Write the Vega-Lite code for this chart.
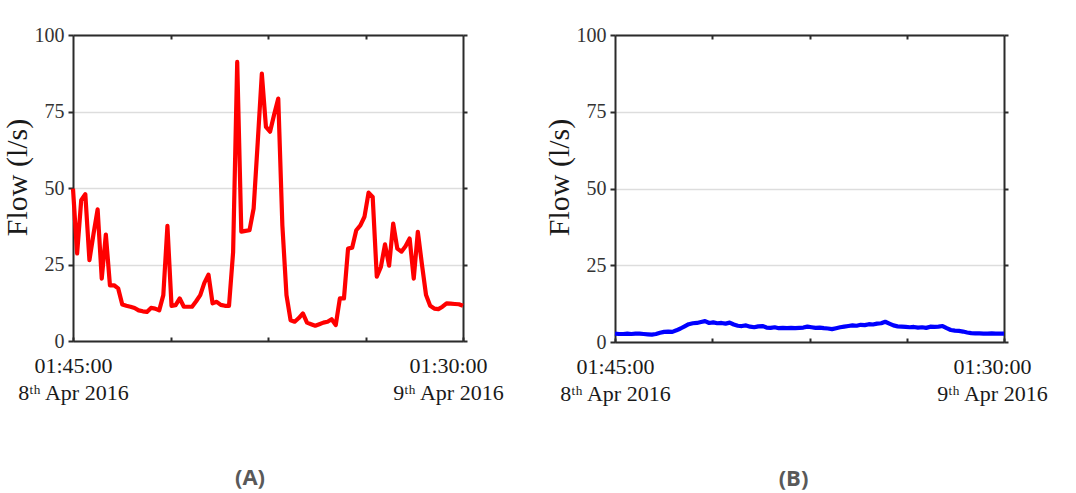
{
  "$schema": "https://vega.github.io/schema/vega-lite/v6.json",
  "background": "white",
  "padding": {"left": 2, "top": 25, "right": 5, "bottom": 5},
  "datasets": {
    "flow": [
      {"t": "2016-04-08 01:45", "a": 49.8, "b": 2.7},
      {"t": "2016-04-08 02:00", "a": 28.6, "b": 2.6},
      {"t": "2016-04-08 02:15", "a": 46.0, "b": 2.6},
      {"t": "2016-04-08 02:30", "a": 48.0, "b": 2.7},
      {"t": "2016-04-08 02:45", "a": 26.4, "b": 2.6},
      {"t": "2016-04-08 03:00", "a": 35.0, "b": 2.7},
      {"t": "2016-04-08 03:15", "a": 43.0, "b": 2.7},
      {"t": "2016-04-08 03:30", "a": 20.4, "b": 2.6},
      {"t": "2016-04-08 03:45", "a": 34.8, "b": 2.5},
      {"t": "2016-04-08 04:00", "a": 18.2, "b": 2.4},
      {"t": "2016-04-08 04:15", "a": 18.2, "b": 2.6},
      {"t": "2016-04-08 04:30", "a": 17.2, "b": 3.0},
      {"t": "2016-04-08 04:45", "a": 11.9, "b": 3.3},
      {"t": "2016-04-08 05:00", "a": 11.5, "b": 3.4},
      {"t": "2016-04-08 05:15", "a": 11.2, "b": 3.3},
      {"t": "2016-04-08 05:30", "a": 10.8, "b": 3.8},
      {"t": "2016-04-08 05:45", "a": 10.0, "b": 4.4},
      {"t": "2016-04-08 06:00", "a": 9.7, "b": 5.1},
      {"t": "2016-04-08 06:15", "a": 9.5, "b": 5.8},
      {"t": "2016-04-08 06:30", "a": 10.8, "b": 6.1},
      {"t": "2016-04-08 06:45", "a": 10.6, "b": 6.2},
      {"t": "2016-04-08 07:00", "a": 10.0, "b": 6.5},
      {"t": "2016-04-08 07:15", "a": 15.0, "b": 6.8},
      {"t": "2016-04-08 07:30", "a": 37.6, "b": 6.2},
      {"t": "2016-04-08 07:45", "a": 11.5, "b": 6.4},
      {"t": "2016-04-08 08:00", "a": 11.7, "b": 6.1},
      {"t": "2016-04-08 08:15", "a": 13.9, "b": 6.2},
      {"t": "2016-04-08 08:30", "a": 11.2, "b": 6.0},
      {"t": "2016-04-08 08:45", "a": 11.2, "b": 6.3},
      {"t": "2016-04-08 09:00", "a": 11.2, "b": 5.7},
      {"t": "2016-04-08 09:15", "a": 13.0, "b": 5.3},
      {"t": "2016-04-08 09:30", "a": 15.0, "b": 5.2},
      {"t": "2016-04-08 09:45", "a": 19.0, "b": 5.4},
      {"t": "2016-04-08 10:00", "a": 21.7, "b": 5.0},
      {"t": "2016-04-08 10:15", "a": 12.3, "b": 4.8},
      {"t": "2016-04-08 10:30", "a": 12.8, "b": 5.1},
      {"t": "2016-04-08 10:45", "a": 11.8, "b": 5.2},
      {"t": "2016-04-08 11:00", "a": 11.5, "b": 4.7},
      {"t": "2016-04-08 11:15", "a": 11.5, "b": 4.6},
      {"t": "2016-04-08 11:30", "a": 29.0, "b": 4.8},
      {"t": "2016-04-08 11:45", "a": 91.2, "b": 4.5},
      {"t": "2016-04-08 12:00", "a": 35.7, "b": 4.6},
      {"t": "2016-04-08 12:15", "a": 36.0, "b": 4.5},
      {"t": "2016-04-08 12:30", "a": 36.2, "b": 4.6},
      {"t": "2016-04-08 12:45", "a": 43.3, "b": 4.5},
      {"t": "2016-04-08 13:00", "a": 65.0, "b": 4.6},
      {"t": "2016-04-08 13:15", "a": 87.4, "b": 4.7},
      {"t": "2016-04-08 13:30", "a": 70.0, "b": 5.0},
      {"t": "2016-04-08 13:45", "a": 68.4, "b": 4.8},
      {"t": "2016-04-08 14:00", "a": 74.0, "b": 4.6},
      {"t": "2016-04-08 14:15", "a": 79.2, "b": 4.7},
      {"t": "2016-04-08 14:30", "a": 37.8, "b": 4.5},
      {"t": "2016-04-08 14:45", "a": 15.0, "b": 4.4},
      {"t": "2016-04-08 15:00", "a": 6.8, "b": 4.2},
      {"t": "2016-04-08 15:15", "a": 6.3, "b": 4.5},
      {"t": "2016-04-08 15:30", "a": 7.5, "b": 4.8},
      {"t": "2016-04-08 15:45", "a": 9.0, "b": 5.0},
      {"t": "2016-04-08 16:00", "a": 6.0, "b": 5.2},
      {"t": "2016-04-08 16:15", "a": 5.5, "b": 5.4},
      {"t": "2016-04-08 16:30", "a": 5.0, "b": 5.3},
      {"t": "2016-04-08 16:45", "a": 5.5, "b": 5.6},
      {"t": "2016-04-08 17:00", "a": 6.0, "b": 5.5},
      {"t": "2016-04-08 17:15", "a": 6.3, "b": 5.8},
      {"t": "2016-04-08 17:30", "a": 7.1, "b": 5.7},
      {"t": "2016-04-08 17:45", "a": 5.2, "b": 6.0},
      {"t": "2016-04-08 18:00", "a": 13.9, "b": 6.1},
      {"t": "2016-04-08 18:15", "a": 13.9, "b": 6.6},
      {"t": "2016-04-08 18:30", "a": 30.2, "b": 6.0},
      {"t": "2016-04-08 18:45", "a": 30.5, "b": 5.4},
      {"t": "2016-04-08 19:00", "a": 36.2, "b": 5.1},
      {"t": "2016-04-08 19:15", "a": 37.8, "b": 5.0},
      {"t": "2016-04-08 19:30", "a": 40.6, "b": 4.9},
      {"t": "2016-04-08 19:45", "a": 48.5, "b": 4.8},
      {"t": "2016-04-08 20:00", "a": 47.1, "b": 4.9},
      {"t": "2016-04-08 20:15", "a": 21.0, "b": 4.7},
      {"t": "2016-04-08 20:30", "a": 24.2, "b": 4.8},
      {"t": "2016-04-08 20:45", "a": 31.6, "b": 4.6},
      {"t": "2016-04-08 21:00", "a": 24.6, "b": 5.0},
      {"t": "2016-04-08 21:15", "a": 38.4, "b": 4.9},
      {"t": "2016-04-08 21:30", "a": 30.2, "b": 5.0},
      {"t": "2016-04-08 21:45", "a": 29.2, "b": 5.2},
      {"t": "2016-04-08 22:00", "a": 31.0, "b": 4.5},
      {"t": "2016-04-08 22:15", "a": 33.5, "b": 3.9},
      {"t": "2016-04-08 22:30", "a": 20.4, "b": 3.7},
      {"t": "2016-04-08 22:45", "a": 35.7, "b": 3.6},
      {"t": "2016-04-08 23:00", "a": 25.0, "b": 3.4},
      {"t": "2016-04-08 23:15", "a": 15.0, "b": 3.1},
      {"t": "2016-04-08 23:30", "a": 11.5, "b": 2.9},
      {"t": "2016-04-08 23:45", "a": 10.6, "b": 2.8},
      {"t": "2016-04-09 00:00", "a": 10.4, "b": 2.8},
      {"t": "2016-04-09 00:15", "a": 11.2, "b": 2.7},
      {"t": "2016-04-09 00:30", "a": 12.3, "b": 2.7},
      {"t": "2016-04-09 00:45", "a": 12.2, "b": 2.8},
      {"t": "2016-04-09 01:00", "a": 12.1, "b": 2.7},
      {"t": "2016-04-09 01:15", "a": 12.0, "b": 2.7},
      {"t": "2016-04-09 01:30", "a": 11.5, "b": 2.7}
    ]
  },
  "data": {"name": "flow"},
  "spacing": 40,
  "hconcat": [
    {
      "width": 390,
      "height": 306,
      "title": {"text": "(A)", "orient": "bottom", "anchor": "middle", "offset": 65, "dx": -18},
      "layer": [
        {
          "mark": {"type": "line", "color": "#ff0000", "strokeWidth": 4.2, "strokeJoin": "round"},
          "encoding": {
            "x": {
              "field": "t", "type": "temporal",
              "scale": {"domain": [{"year": 2016, "month": 4, "date": 8, "hours": 1, "minutes": 45}, {"year": 2016, "month": 4, "date": 9, "hours": 1, "minutes": 30}], "nice": false},
              "axis": {
                "orient": "bottom", "title": null, "grid": false,
                "values": [
                  {"year": 2016, "month": 4, "date": 8, "hours": 1, "minutes": 45},
                  {"year": 2016, "month": 4, "date": 8, "hours": 7, "minutes": 41, "seconds": 15},
                  {"year": 2016, "month": 4, "date": 8, "hours": 13, "minutes": 37, "seconds": 30},
                  {"year": 2016, "month": 4, "date": 8, "hours": 19, "minutes": 33, "seconds": 45},
                  {"year": 2016, "month": 4, "date": 9, "hours": 1, "minutes": 30}
                ],
                "labelExpr": "datum.value < datetime(2016, 3, 8, 2, 0) || datum.value > datetime(2016, 3, 9, 1, 0) ? [timeFormat(datum.value, '%H:%M:%S'), timeFormat(datum.value, '%-d') + 'ᵗʰ ' + timeFormat(datum.value, '%b %Y')] : ''",
                "labelOffset": {"condition": {"test": "datum.value > datetime(2016, 3, 9, 1, 0)", "value": -15}, "value": 0},
                "tickSize": -4, "labelPadding": 18, "labelAlign": "center", "labelFontSize": 22, "labelLineHeight": 27, "labelColor": "#1a1a1a"
              }
            },
            "y": {
              "field": "a", "type": "quantitative",
              "scale": {"domain": [0, 100], "nice": false},
              "axis": {"orient": "left", "title": "Flow (l/s)", "values": [0, 25, 50, 75, 100], "grid": true, "tickSize": 5, "labelPadding": 4, "labelFontSize": 20, "titleFontSize": 30, "titlePadding": 2, "titleY": 142}
            }
          }
        },
        {
          "mark": {"type": "line", "opacity": 0},
          "encoding": {
            "x": {
              "field": "t", "type": "temporal",
              "scale": {"domain": [{"year": 2016, "month": 4, "date": 8, "hours": 1, "minutes": 45}, {"year": 2016, "month": 4, "date": 9, "hours": 1, "minutes": 30}], "nice": false},
              "axis": {
                "orient": "top", "title": null, "grid": false, "labels": false, "tickSize": -4,
                "values": [
                  {"year": 2016, "month": 4, "date": 8, "hours": 7, "minutes": 41, "seconds": 15},
                  {"year": 2016, "month": 4, "date": 8, "hours": 13, "minutes": 37, "seconds": 30},
                  {"year": 2016, "month": 4, "date": 8, "hours": 19, "minutes": 33, "seconds": 45}
                ]
              }
            },
            "y": {
              "field": "a", "type": "quantitative",
              "scale": {"domain": [0, 100], "nice": false},
              "axis": {"orient": "right", "title": null, "grid": false, "labels": false, "tickSize": 4, "values": [0, 25, 50, 75, 100]}
            }
          }
        }
      ],
      "resolve": {"axis": {"x": "independent", "y": "independent"}}
    },
    {
      "width": 389,
      "height": 307,
      "title": {"text": "(B)", "orient": "bottom", "anchor": "middle", "offset": 65, "dx": -16},
      "layer": [
        {
          "mark": {"type": "line", "color": "#0000ff", "strokeWidth": 4.2, "strokeJoin": "round"},
          "encoding": {
            "x": {
              "field": "t", "type": "temporal",
              "scale": {"domain": [{"year": 2016, "month": 4, "date": 8, "hours": 1, "minutes": 45}, {"year": 2016, "month": 4, "date": 9, "hours": 1, "minutes": 30}], "nice": false},
              "axis": {
                "orient": "bottom", "title": null, "grid": false,
                "values": [
                  {"year": 2016, "month": 4, "date": 8, "hours": 1, "minutes": 45},
                  {"year": 2016, "month": 4, "date": 8, "hours": 7, "minutes": 41, "seconds": 15},
                  {"year": 2016, "month": 4, "date": 8, "hours": 13, "minutes": 37, "seconds": 30},
                  {"year": 2016, "month": 4, "date": 8, "hours": 19, "minutes": 33, "seconds": 45},
                  {"year": 2016, "month": 4, "date": 9, "hours": 1, "minutes": 30}
                ],
                "labelExpr": "datum.value < datetime(2016, 3, 8, 2, 0) || datum.value > datetime(2016, 3, 9, 1, 0) ? [timeFormat(datum.value, '%H:%M:%S'), timeFormat(datum.value, '%-d') + 'ᵗʰ ' + timeFormat(datum.value, '%b %Y')] : ''",
                "labelOffset": {"condition": {"test": "datum.value > datetime(2016, 3, 9, 1, 0)", "value": -12}, "value": 0},
                "tickSize": -4, "labelPadding": 18, "labelAlign": "center", "labelFontSize": 22, "labelLineHeight": 27, "labelColor": "#1a1a1a"
              }
            },
            "y": {
              "field": "b", "type": "quantitative",
              "scale": {"domain": [0, 100], "nice": false},
              "axis": {"orient": "left", "title": "Flow (l/s)", "values": [0, 25, 50, 75, 100], "grid": true, "tickSize": 5, "labelPadding": 4, "labelFontSize": 20, "titleFontSize": 30, "titlePadding": 2, "titleY": 142}
            }
          }
        },
        {
          "mark": {"type": "line", "opacity": 0},
          "encoding": {
            "x": {
              "field": "t", "type": "temporal",
              "scale": {"domain": [{"year": 2016, "month": 4, "date": 8, "hours": 1, "minutes": 45}, {"year": 2016, "month": 4, "date": 9, "hours": 1, "minutes": 30}], "nice": false},
              "axis": {
                "orient": "top", "title": null, "grid": false, "labels": false, "tickSize": -4,
                "values": [
                  {"year": 2016, "month": 4, "date": 8, "hours": 7, "minutes": 41, "seconds": 15},
                  {"year": 2016, "month": 4, "date": 8, "hours": 13, "minutes": 37, "seconds": 30},
                  {"year": 2016, "month": 4, "date": 8, "hours": 19, "minutes": 33, "seconds": 45}
                ]
              }
            },
            "y": {
              "field": "b", "type": "quantitative",
              "scale": {"domain": [0, 100], "nice": false},
              "axis": {"orient": "right", "title": null, "grid": false, "labels": false, "tickSize": 4, "values": [0, 25, 50, 75, 100]}
            }
          }
        }
      ],
      "resolve": {"axis": {"x": "independent", "y": "independent"}}
    }
  ],
  "config": {
    "view": {"stroke": null},
    "axis": {
      "domainColor": "#2b2b2b", "domainWidth": 2, "tickColor": "#2b2b2b", "tickWidth": 2,
      "labelFont": "Liberation Serif", "labelColor": "#333333", "labelOverlap": false,
      "titleFont": "Liberation Serif", "titleFontWeight": "normal", "titleColor": "#1a1a1a",
      "gridColor": "#dddddd", "gridWidth": 1.5
    },
    "title": {"font": "Open Sans", "fontWeight": "bold", "fontSize": 22, "color": "#595959"}
  }
}
